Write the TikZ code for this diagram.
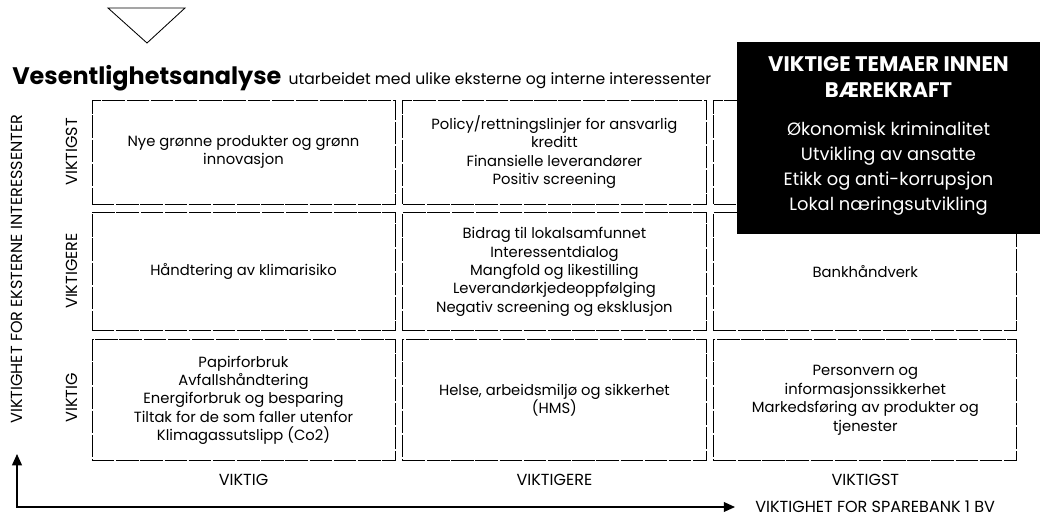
\documentclass[tikz,border=0pt]{standalone}
\usepackage{fontspec}
\setmainfont{Poppins}
\usetikzlibrary{arrows.meta}
\usetikzlibrary{positioning}
\tikzset{cell/.style = {draw, line width=0.6pt, dash pattern=on 16pt off 1.2pt,
                        align=center, minimum width=7.575cm, inner sep=0pt,
                        font=\fontsize{10.5}{13.1}\selectfont},
         level/.style = {inner sep=0pt, font=\fontsize{11.4}{13}\selectfont},
         axis/.style = {{Triangle[length=8pt, width=7pt]}-{Triangle[length=8pt, width=7pt]},
                        line width=0.9pt}}

\begin{document}
\begin{tikzpicture}[x=0.025cm, y=-0.025cm]
    \useasboundingbox (0, 0) rectangle (1040, 518);

    \draw [line width=0.6pt] (108, 8) -- (185, 8) -- (147, 43) -- cycle;

    \node [anchor=base west, inner sep=0pt] (title) at (12, 85)
        {\fontsize{17}{20}\selectfont\bfseries Vesentlighetsanalyse};
    \node [anchor=base west, inner sep=0pt] (sub) at ([xshift=0.17cm]title.base east)
        {\fontsize{11.1}{13}\selectfont utarbeidet med ulike eksterne og interne interessenter};

    \node [cell, minimum height=2.6cm] (c11) at (243.5, 152)
        {Nye grønne produkter og grønn\\innovasjon};
    \node [cell, minimum height=2.6cm, right=0.175cm of c11] (c21)
        {Policy/rettningslinjer for ansvarlig\\kreditt\\Finansielle leverandører\\Positiv screening};
    \node [cell, minimum height=2.6cm, right=0.175cm of c21] (c31) {};

    \node [cell, minimum height=2.95cm, below=0.2cm of c11] (c12)
        {Håndtering av klimarisiko};
    \node [cell, minimum height=2.95cm, below=0.2cm of c21] (c22)
        {Bidrag til lokalsamfunnet\\Interessentdialog\\Mangfold og likestilling\\Leverandørkjedeoppfølging\\Negativ screening og eksklusjon};
    \node [cell, minimum height=2.95cm, below=0.2cm of c31] (c32)
        {Bankhåndverk};

    \node [cell, minimum height=3.025cm, below=0.2cm of c12] (c13)
        {Papirforbruk\\Avfallshåndtering\\Energiforbruk og besparing\\Tiltak for de som faller utenfor\\Klimagassutslipp (Co2)};
    \node [cell, minimum height=3.025cm, below=0.2cm of c22] (c23)
        {Helse, arbeidsmiljø og sikkerhet\\(HMS)};
    \node [cell, minimum height=3.025cm, below=0.2cm of c32] (c33)
        {Personvern og\\informasjonssikkerhet\\Markedsføring av produkter og\\tjenester};

    \node [fill=black, minimum width=7.59cm, minimum height=4.775cm] (tema) at (888.5, 138) {};
    \node [text=white, align=center, inner sep=0pt, below=0.36cm of tema.north,
           font=\fontsize{15}{18.4}\selectfont\bfseries] (temahead)
        {VIKTIGE TEMAER INNEN\\BÆREKRAFT};
    \node [text=white, align=center, inner sep=0pt, below=0.6cm of temahead,
           font=\fontsize{12.7}{17.6}\selectfont] (temalist)
        {Økonomisk kriminalitet\\Utvikling av ansatte\\Etikk og anti-korrupsjon\\Lokal næringsutvikling};

    \node [level, rotate=90] (y1) at (72, 152) {VIKTIGST};
    \node [level, rotate=90] (y2) at (72, 271) {VIKTIGERE};
    \node [level, rotate=90] (y3) at (72, 398) {VIKTIG};

    \node [level, below=0.33cm of c13] (x1) {VIKTIG};
    \node [level, below=0.33cm of c23] (x2) {VIKTIGERE};
    \node [level, below=0.33cm of c33] (x3) {VIKTIGST};

    \node [level, rotate=90, anchor=west] (ylab) at (17, 424) {VIKTIGHET FOR EKSTERNE INTERESSENTER};
    \node [level, anchor=west] (xlab) at (755, 507) {VIKTIGHET FOR SPAREBANK 1 BV};

    \draw [axis] ([yshift=-0.75cm]ylab.west) |- ([xshift=-0.5cm]xlab.west);
\end{tikzpicture}
\end{document}
